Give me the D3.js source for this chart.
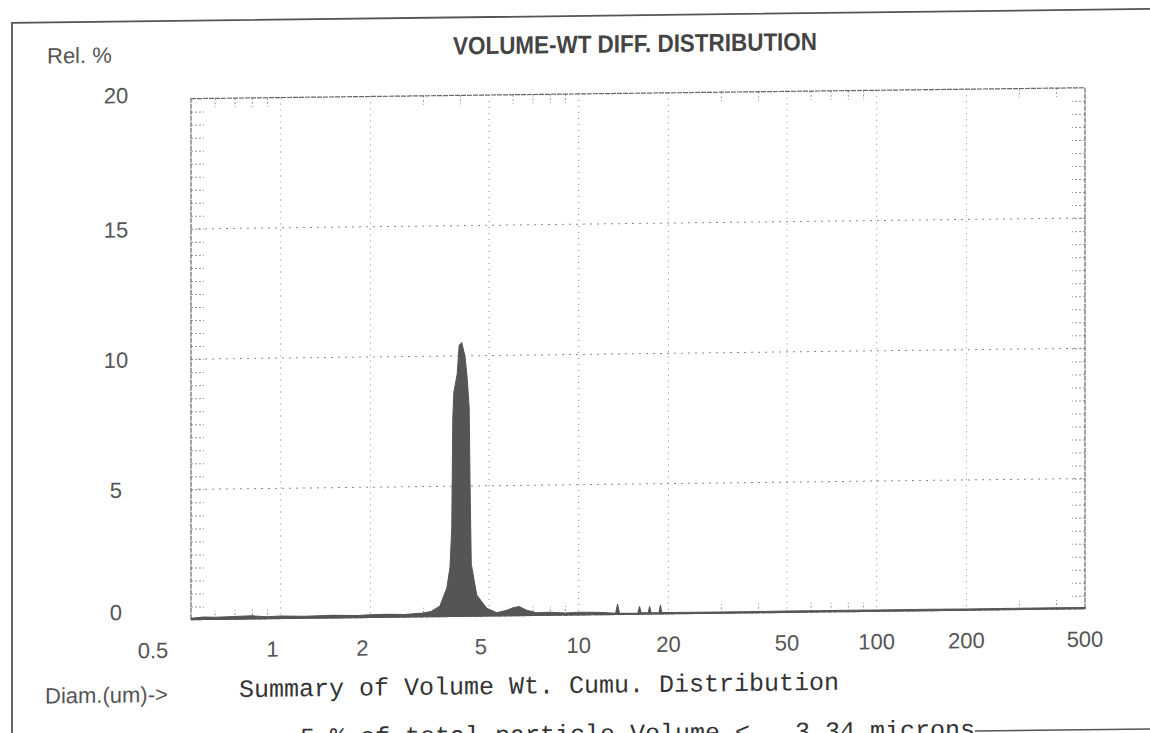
<!DOCTYPE html>
<html>
<head>
<meta charset="utf-8">
<script src="https://cdn.jsdelivr.net/npm/d3@7"></script>
<style>
  body { margin: 0; background: #fff; }
  svg { display: block; }
</style>
</head>
<body>
<div id="chart"></div>
<script>
'use strict';

// data
var diamUm = [0.5, 0.55, 0.6, 0.7, 0.8, 0.9, 1.0, 1.2, 1.5, 1.8, 2.0, 2.3, 2.6, 3.0, 3.2,
  3.42, 3.61, 3.70, 3.75, 3.78, 3.81, 3.91, 3.97, 4.05, 4.15,
  4.22, 4.29, 4.32, 4.36, 4.55, 4.91, 5.3, 5.7, 6.0, 6.3, 6.7,
  7.2, 8.0, 9.0, 10, 11, 12,
  13.3, 13.5, 13.7, 15.8, 16.0, 16.2, 17.1, 17.3, 17.5,
  18.6, 18.8, 19.0, 20, 25, 30, 40, 50, 60, 70,
  80, 100, 150, 200, 300, 400, 500];
var relPct = [0.05, 0.1, 0.08, 0.1, 0.12, 0.08, 0.1, 0.08, 0.1, 0.08, 0.1, 0.12, 0.1, 0.15, 0.2,
  0.4, 1.1, 1.9, 3.4, 7.6, 8.6, 9.3, 10.4, 10.5, 10.0,
  9.2, 8.0, 5.0, 2.0, 0.8, 0.3, 0.12, 0.2, 0.3, 0.35, 0.2,
  0.1, 0.12, 0.08, 0.1, 0.1, 0.08,
  0.05, 0.4, 0.05, 0.05, 0.3, 0.05, 0.05, 0.3, 0.05,
  0.05, 0.35, 0.05, 0.05, 0.05, 0.05, 0.05, 0.05, 0.05, 0.05,
  0.05, 0.05, 0.05, 0.05, 0.05, 0.05, 0.05];

var xTicks = [0.5, 1, 2, 5, 10, 20, 50, 100, 200, 500];
var xGrid = [1, 2, 5, 10, 20, 50, 100, 200];
var xMinor = [0.6, 0.7, 0.8, 0.9, 3, 4, 6, 7, 8, 9, 30, 40, 60, 70, 80, 90, 300, 400];
var yTicks = [0, 5, 10, 15, 20];
var yGrid = [5, 10, 15];

var titleText = 'VOLUME-WT DIFF. DISTRIBUTION';
var yLabel = 'Rel. %';
var xLabel = 'Diam.(um)->';
var summaryLines = [
  'Summary of Volume Wt. Cumu. Distribution',
  '5 % of total particle Volume <   3.34 microns'
];

var width = 1150;
var height = 733;
var plotLeft = 191, plotRight = 1085, plotTop = 94, plotBottom = 615;

var data = diamUm.map(function(d, i){ return {d: d, v: relPct[i]}; });

var x = d3.scaleLog()
  .domain([0.5, 500])
  .range([plotLeft, plotRight]);

var y = d3.scaleLinear()
  .domain([0, 20])
  .range([plotBottom, plotTop]);

var svg = d3.select('#chart').append('svg')
  .attr('width', width)
  .attr('height', height);

// the scan is slightly sheared, so everything sits in a skewed group
var g = svg.append('g')
  .attr('transform', 'translate(0,7) skewY(-0.7)');

// outer frame (top and left edge of the printout)
g.append('path')
  .attr('d', 'M12,' + (height + 20) + 'V16H' + (width + 10))
  .attr('fill', 'none')
  .attr('stroke', '#555')
  .attr('stroke-width', 1.8);

// dotted grid
g.selectAll('.vgrid')
    .data(xGrid)
  .enter().append('line')
    .attr('class', 'vgrid')
    .attr('x1', x).attr('x2', x)
    .attr('y1', plotTop).attr('y2', plotBottom)
    .attr('stroke', '#8a8a8a')
    .attr('stroke-width', 1)
    .attr('stroke-dasharray', '1,5');

g.selectAll('.hgrid')
    .data(yGrid)
  .enter().append('line')
    .attr('class', 'hgrid')
    .attr('x1', plotLeft).attr('x2', plotRight)
    .attr('y1', y).attr('y2', y)
    .attr('stroke', '#8a8a8a')
    .attr('stroke-width', 1)
    .attr('stroke-dasharray', '2,5');

// minor ticks on the frame
var yMinor = d3.range(0.5, 20, 0.5);
var tickStyle = function(sel){
  sel.select('.domain').remove();
  sel.selectAll('line')
    .attr('stroke', '#999')
    .attr('stroke-dasharray', '2,2');
};
g.append('g')
  .attr('transform', 'translate(' + plotLeft + ',0)')
  .call(d3.axisRight(y).tickValues(yMinor).tickSize(13).tickFormat(''))
  .call(tickStyle);
g.append('g')
  .attr('transform', 'translate(' + plotRight + ',0)')
  .call(d3.axisLeft(y).tickValues(yMinor).tickSize(13).tickFormat(''))
  .call(tickStyle);
g.append('g')
  .attr('transform', 'translate(0,' + plotTop + ')')
  .call(d3.axisBottom(x).tickValues(xMinor).tickSize(9).tickFormat(''))
  .call(tickStyle);
g.append('g')
  .attr('transform', 'translate(0,' + plotBottom + ')')
  .call(d3.axisTop(x).tickValues(xMinor).tickSize(9).tickFormat(''))
  .call(tickStyle);

// plot border
g.append('rect')
  .attr('x', plotLeft)
  .attr('y', plotTop)
  .attr('width', plotRight - plotLeft)
  .attr('height', plotBottom - plotTop)
  .attr('fill', 'none')
  .attr('stroke', '#666')
  .attr('stroke-width', 1.2)
  .attr('stroke-dasharray', '5,1');

// the distribution
var area = d3.area()
  .x(function(d){ return x(d.d); })
  .y0(y(0))
  .y1(function(d){ return y(d.v); });

g.append('path')
  .datum(data)
  .attr('d', area)
  .attr('fill', '#555')
  .attr('stroke', '#555')
  .attr('stroke-width', 1);

// tick labels
g.selectAll('.ylab')
    .data(yTicks)
  .enter().append('text')
    .attr('class', 'ylab')
    .attr('x', 116)
    .attr('y', function(d){ return y(d) + (d === 20 ? -4 : d === 0 ? -8 : 0); })
    .attr('dy', '0.35em')
    .attr('text-anchor', 'middle')
    .attr('font-family', 'Liberation Sans, Arial, sans-serif')
    .attr('font-size', 22)
    .attr('fill', '#555')
    .text(function(d){ return d; });

g.selectAll('.xlab')
    .data(xTicks)
  .enter().append('text')
    .attr('class', 'xlab')
    .attr('x', function(d){ return x(d) + (d < 1 ? -38 : d < 10 ? -8 : 0); })
    .attr('y', 653)
    .attr('text-anchor', 'middle')
    .attr('font-family', 'Liberation Sans, Arial, sans-serif')
    .attr('font-size', 22)
    .attr('fill', '#555')
    .text(function(d){ return d; });

// titles
g.append('text')
  .attr('x', 635)
  .attr('y', 53)
  .attr('text-anchor', 'middle')
  .attr('font-family', 'Liberation Sans, Arial, sans-serif')
  .attr('font-weight', 'bold')
  .attr('font-size', 25)
  .attr('textLength', 364)
  .attr('lengthAdjust', 'spacingAndGlyphs')
  .attr('fill', '#444')
  .text(titleText);

g.append('text')
  .attr('x', 47)
  .attr('y', 57)
  .attr('font-family', 'Liberation Sans, Arial, sans-serif')
  .attr('font-size', 22)
  .attr('fill', '#555')
  .text(yLabel);

g.append('text')
  .attr('x', 45)
  .attr('y', 697)
  .attr('font-family', 'Liberation Sans, Arial, sans-serif')
  .attr('font-size', 22)
  .attr('fill', '#555')
  .text(xLabel);

// courier summary at the bottom (second line runs off the page, as in the scan)
g.selectAll('.summary')
    .data(summaryLines)
  .enter().append('text')
    .attr('class', 'summary')
    .attr('x', function(d, i){ return i === 0 ? 239 : 300; })
    .attr('y', function(d, i){ return 693 + i * 49; })
    .attr('font-family', 'Liberation Mono, Courier New, monospace')
    .attr('font-size', 25)
    .attr('fill', '#333')
    .style('white-space', 'pre')
    .text(function(d){ return d; });

g.append('line')
  .attr('x1', 975).attr('x2', width + 10)
  .attr('y1', 736).attr('y2', 736)
  .attr('stroke', '#555')
  .attr('stroke-width', 1.5);
</script>
</body>
</html>
